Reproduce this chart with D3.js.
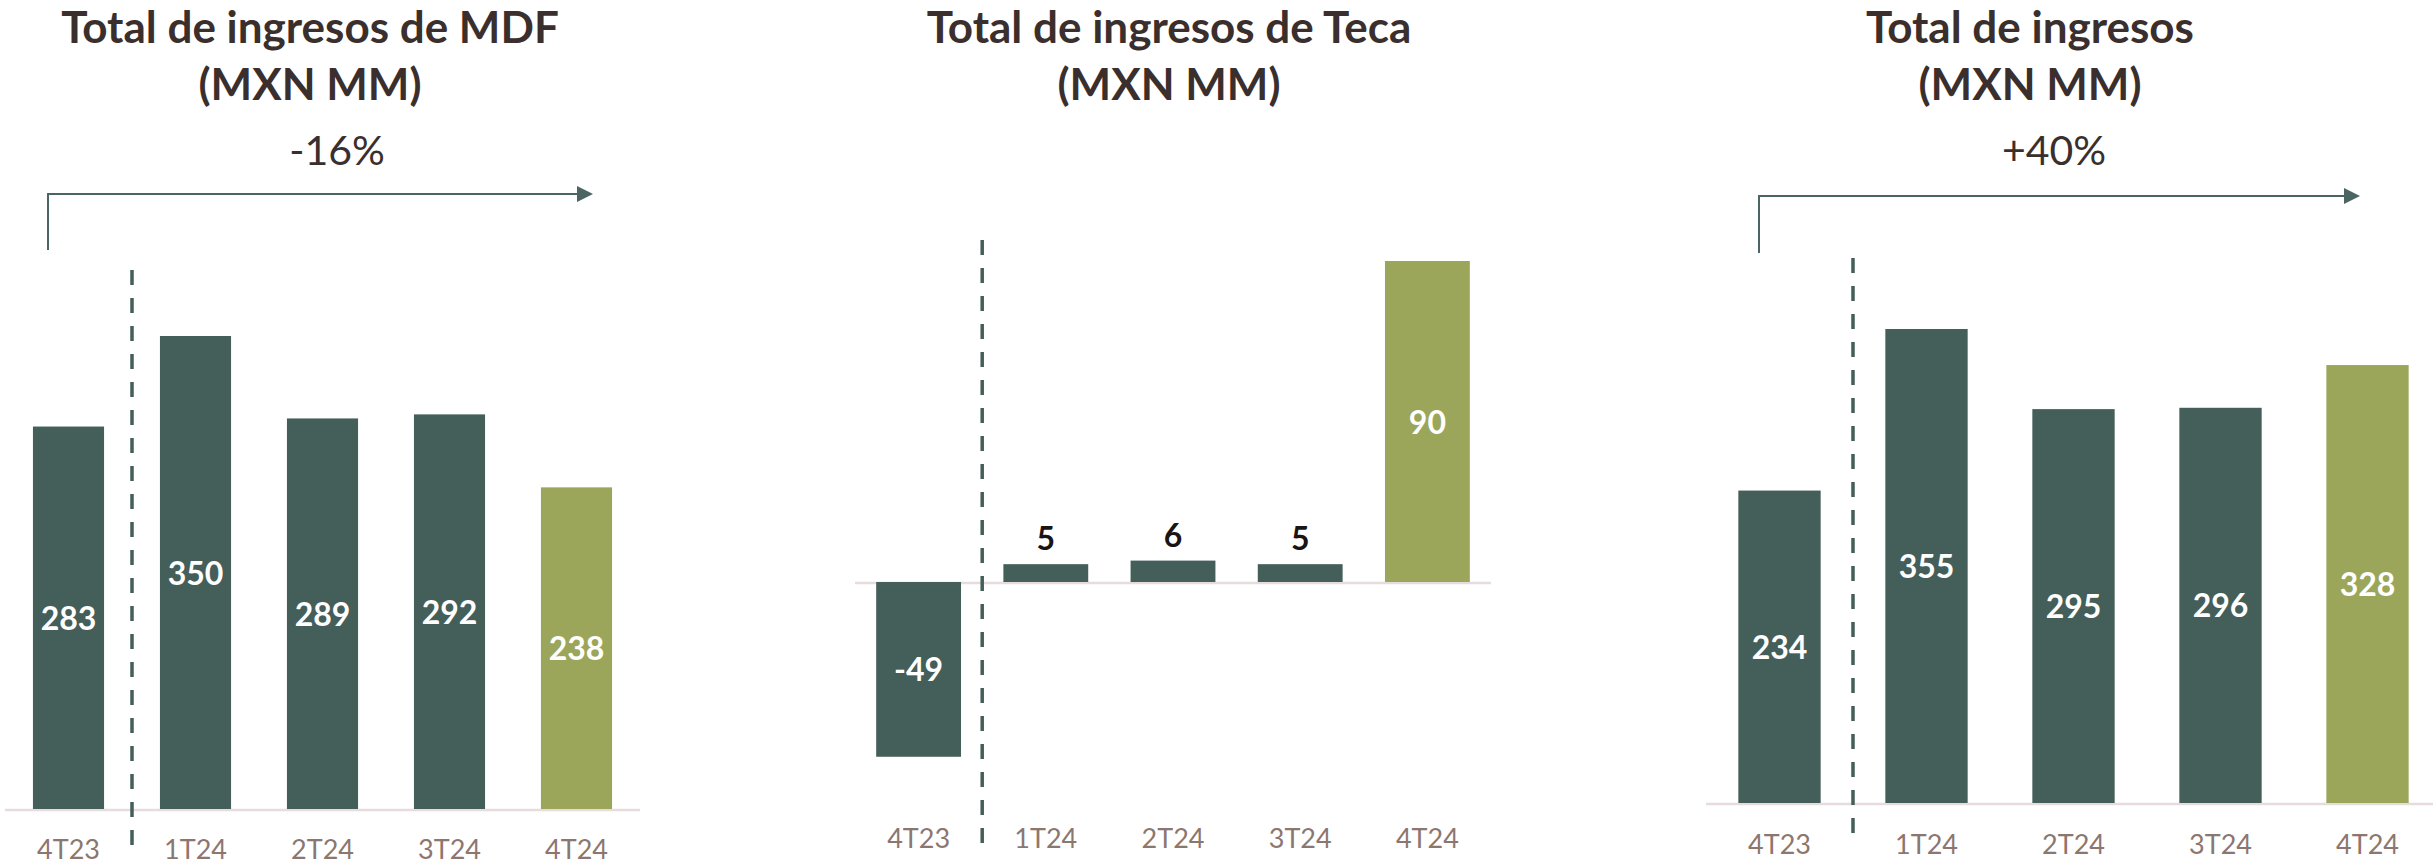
<!DOCTYPE html>
<html>
<head>
<meta charset="utf-8">
<script src="https://cdn.jsdelivr.net/npm/d3@7"></script>
<style>
  html, body { margin: 0; padding: 0; background: #ffffff; }
  svg { display: block; font-family: Lato, "Open Sans", sans-serif; }
</style>
</head>
<body>
<div id="chart"></div>
<script>
// data
const quarters = ["4T23", "1T24", "2T24", "3T24", "4T24"];
const mdfValues = [283, 350, 289, 292, 238];
const tecaValues = [-49, 5, 6, 5, 90];
const totalValues = [234, 355, 295, 296, 328];
const panelTitles = [
    ["Total de ingresos de MDF", "(MXN MM)"],
    ["Total de ingresos de Teca", "(MXN MM)"],
    ["Total de ingresos", "(MXN MM)"]
];
const changeLabels = ["-16%", null, "+40%"];

const darkGreen = "#445e5a";
const olive = "#9ca65a";
const titleColor = "#3b2f2d";
const tickColor = "#8c7670";
const zeroColor = "#e6dcdd";
const arrowColor = "#4a6562";

const width = 2433, height = 865;

const svg = d3.select("#chart")
    .append("svg")
    .attr("width", width)
    .attr("height", height);

svg.append("defs").append("marker")
    .attr("id", "arrowHead")
    .attr("viewBox", "0 0 16 16")
    .attr("refX", 14)
    .attr("refY", 8)
    .attr("markerWidth", 16)
    .attr("markerHeight", 16)
    .attr("markerUnits", "userSpaceOnUse")
    .attr("orient", "auto")
    .append("path")
    .attr("d", "M0,0 L16,8 L0,16 Z")
    .attr("fill", arrowColor);

const panels = [
    { values: mdfValues, xRange: [5, 640], inner: 0.44, yDomain: [0, 350], yRange: [809, 336],
      titleX: 310, changeX: 337, arrow: { x0: 48, x1: 591, y: 194, yBottom: 250 },
      dashTop: 270, dashBottom: 850, tickBaseline: 859 },
    { values: tecaValues, xRange: [855, 1491], inner: 0.333, yDomain: [0, 90], yRange: [582, 261],
      titleX: 1169, changeX: null, arrow: null,
      dashTop: 240, dashBottom: 850, tickBaseline: 848 },
    { values: totalValues, xRange: [1706, 2441], inner: 0.44, yDomain: [0, 355], yRange: [803, 329],
      titleX: 2030, changeX: 2054, arrow: { x0: 1759, x1: 2358, y: 196, yBottom: 253 },
      dashTop: 258, dashBottom: 834, tickBaseline: 854 }
];

panels.forEach((p, i) => {
    const g = svg.append("g").attr("class", "panel");

    const x = d3.scaleBand()
        .domain(quarters)
        .range(p.xRange)
        .paddingInner(p.inner)
        .paddingOuter(p.inner / 2);

    const y = d3.scaleLinear()
        .domain(p.yDomain)
        .range(p.yRange);

    // Title
    g.append("text")
        .attr("x", p.titleX)
        .attr("y", 43)
        .attr("text-anchor", "middle")
        .style("font-size", "44px")
        .style("font-weight", "bold")
        .attr("fill", titleColor)
        .text(panelTitles[i][0]);

    g.append("text")
        .attr("x", p.titleX)
        .attr("y", 100)
        .attr("text-anchor", "middle")
        .style("font-size", "44px")
        .style("font-weight", "bold")
        .attr("fill", titleColor)
        .text(panelTitles[i][1]);

    // growth arrow
    if (p.arrow) {
        g.append("path")
            .attr("d", `M${p.arrow.x0},${p.arrow.yBottom} L${p.arrow.x0},${p.arrow.y} L${p.arrow.x1},${p.arrow.y}`)
            .attr("fill", "none")
            .attr("stroke", arrowColor)
            .attr("stroke-width", 2)
            .attr("marker-end", "url(#arrowHead)");

        g.append("text")
            .attr("x", p.changeX)
            .attr("y", 165)
            .attr("text-anchor", "middle")
            .style("font-size", "41px")
            .attr("fill", titleColor)
            .text(changeLabels[i]);
    }

    // zero line
    g.append("line")
        .attr("x1", p.xRange[0])
        .attr("x2", p.xRange[1])
        .attr("y1", y(0) + 1)
        .attr("y2", y(0) + 1)
        .attr("stroke", zeroColor)
        .attr("stroke-width", 2.5);

    // bars
    g.selectAll("rect.bar")
        .data(p.values)
        .join("rect")
        .attr("class", "bar")
        .attr("x", (d, j) => x(quarters[j]))
        .attr("width", x.bandwidth())
        .attr("y", d => Math.min(y(d), y(0)))
        .attr("height", d => Math.abs(y(d) - y(0)))
        .attr("fill", (d, j) => j === quarters.length - 1 ? olive : darkGreen);

    // value labels
    g.selectAll("text.value")
        .data(p.values)
        .join("text")
        .attr("class", "value")
        .attr("x", (d, j) => x(quarters[j]) + x.bandwidth() / 2)
        .attr("y", d => {
            const h = Math.abs(y(d) - y(0));
            if (h < 40) return y(d) - 14;
            return (y(d) + y(0)) / 2 + 12;
        })
        .attr("text-anchor", "middle")
        .style("font-size", "32px")
        .style("font-weight", "bold")
        .attr("fill", d => Math.abs(y(d) - y(0)) < 40 ? "#1a1414" : "#ffffff")
        .text(d => d);

    // separator between last year and this year
    const sepX = (x(quarters[0]) + x(quarters[1]) + x.bandwidth()) / 2;
    g.append("line")
        .attr("x1", sepX)
        .attr("x2", sepX)
        .attr("y1", p.dashTop)
        .attr("y2", p.dashBottom)
        .attr("stroke", darkGreen)
        .attr("stroke-width", 3.5)
        .attr("stroke-dasharray", "15,13");

    // category axis
    const axis = g.append("g")
        .attr("transform", `translate(0, ${p.tickBaseline - 19})`)
        .call(d3.axisBottom(x).tickSize(0).tickPadding(0));

    axis.select(".domain").remove();
    axis.selectAll("text")
        .style("font-size", "27px")
        .style("font-family", "Lato, 'Open Sans', sans-serif")
        .attr("fill", tickColor);
});
</script>
</body>
</html>
